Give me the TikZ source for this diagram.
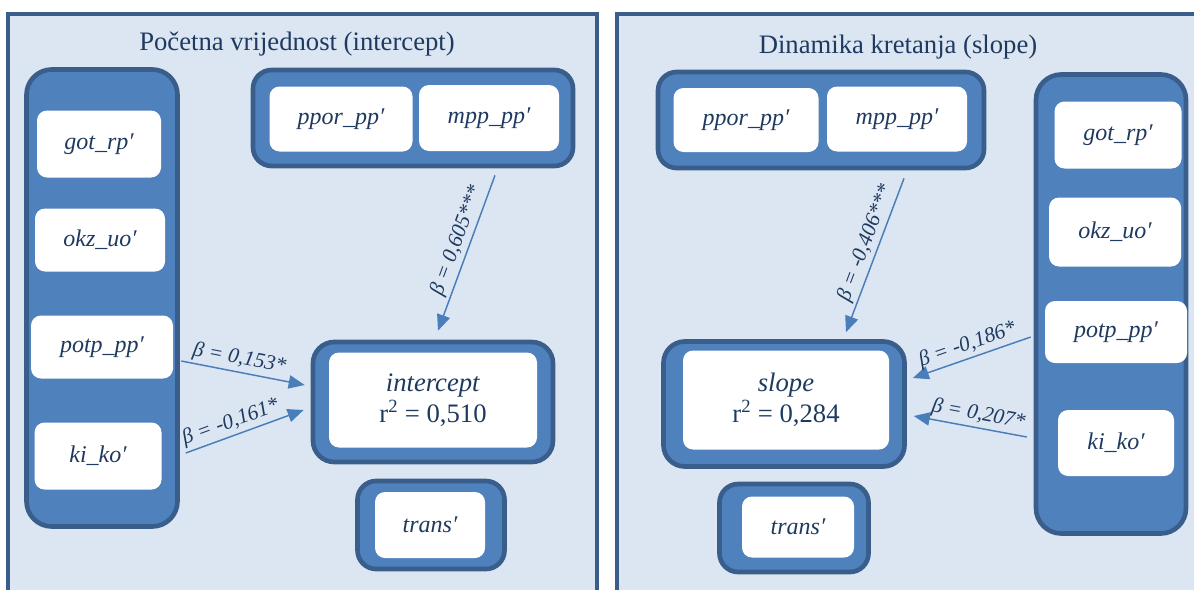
\documentclass[tikz,border=0pt]{standalone}
\usepackage{fontspec}
\setmainfont{Liberation Serif}
\usetikzlibrary{arrows.meta, calc}

\definecolor{panelfill}{HTML}{DCE6F2}
\definecolor{darkline}{HTML}{3A5E8C}
\definecolor{midblue}{HTML}{4F81BD}
\definecolor{arrowblue}{HTML}{4A7EBB}
\definecolor{txtblue}{HTML}{1F3A60}

\begin{document}
\begin{tikzpicture}[x=0.75pt, y=-0.75pt,
                    panel/.style={draw=darkline, line width=3pt, fill=panelfill},
                    grp/.style={draw=darkline, line width=3.5pt, fill=midblue, rounded corners=#1, inner sep=0pt},
                    grp/.default=14pt,
                    var/.style={fill=white, rounded corners=7.5pt, inner sep=0pt, text=txtblue,
                                font=\itshape\fontsize{18}{22}\selectfont},
                    sz/.style 2 args={minimum width=#1*0.75pt, minimum height=#2*0.75pt},
                    res/.style={var, align=center, font=\fontsize{20}{23}\selectfont},
                    title/.style={text=txtblue, font=\fontsize{20}{24}\selectfont},
                    arr/.style={-{Triangle[length=12pt,width=10pt]}, draw=arrowblue, line width=1.1pt},
                    lbl/.style={sloped, above, inner sep=2pt, text=txtblue, font=\itshape\fontsize{16}{18}\selectfont}]

\fill[white] (0,0) rectangle (1194,589);
\useasboundingbox (0,0) rectangle (1194,589);
\clip (0,0) rectangle (1194,589);

% Panels
\draw[panel] (8,14) rectangle (597,600);
\draw[panel] (617,14) rectangle (1205,600);
\node (ltitle) [title] at (297,44) {Početna vrijednost (intercept)};
\node (rtitle) [title] at (898,47) {Dinamika kretanja (slope)};

% Left: nodes
\node (lcol) [grp=19pt, sz={151}{457}] at (102,298) {};
\node (lgot) [var, sz={124}{67}] at (99,144) {got\_rp′};
\node (lokz) [var, sz={130}{63}] at (100,240) {okz\_uo′};
\node (lpotp) [var, sz={142}{63}] at (102,347) {potp\_pp′};
\node (lkiko) [var, sz={127}{67}] at (98,456) {ki\_ko′};
\node (ltop) [grp, sz={320}{96}] at (413,118) {};
\node (lppor) [var, sz={143}{65}] at (341,119) {ppor\_pp′};
\node (lmpp) [var, sz={140}{66}] at (489,118) {mpp\_pp′};
\node (icpt) [grp=16pt, sz={240}{120}] at (433,402) {};
\node (icptx) [res, sz={208}{95}] at (433,400) {\textit{intercept}\\r\textsuperscript{2} = 0,510};
\node (ltrg) [grp, sz={147}{88}] at (431,525) {};
\node (ltrans) [var, sz={110}{66}] at (430,525) {trans′};

% Left: edges
\draw[arr] ($(ltop.south)+(82,7)$) -- node[lbl, pos=0.45] {β = 0,605***} ($(icpt.north)+(5,-9)$);
\draw[arr] ($(lpotp.east)+(8,14)$) -- node[lbl, pos=0.45] {β = 0,153*} ($(icpt.west)+(-6,-17)$);
\draw[arr] ($(lkiko.east)+(24,-3)$) -- node[lbl, pos=0.42] {β = -0,161*} ($(icpt.west)+(-7,8)$);

% Right: nodes
\node (rtop) [grp, sz={326}{96}] at (821,120) {};
\node (rppor) [var, sz={145}{64}] at (746,120) {ppor\_pp′};
\node (rmpp) [var, sz={140}{65}] at (897,119) {mpp\_pp′};
\node (rcol) [grp=19pt, sz={150}{459}] at (1111,304) {};
\node (rgot) [var, sz={127}{67}] at (1118,135) {got\_rp′};
\node (rokz) [var, sz={132}{69}] at (1115,232) {okz\_uo′};
\node (rpotp) [var, sz={142}{62}] at (1116,332) {potp\_pp′};
\node (rkiko) [var, sz={116}{66}] at (1116,443) {ki\_ko′};
\node (slope) [grp=16pt, sz={241}{125}] at (784,404) {};
\node (slopex) [res, sz={206}{99}] at (786,400) {\textit{slope}\\r\textsuperscript{2} = 0,284};
\node (rtrg) [grp, sz={149}{88}] at (794,528) {};
\node (rtrans) [var, sz={112}{61}] at (798,527) {trans′};

% Right: edges
\draw[arr] ($(rtop.south)+(83,8)$) -- node[lbl, pos=0.45] {β = -0,406***} ($(slope.north)+(62,-7)$);
\draw[arr] ($(rpotp.west)+(-14,5)$) -- node[lbl, pos=0.5] {β = -0,186*} ($(slope.east)+(6,-26)$);
\draw[arr] ($(rkiko.west)+(-31,-6)$) -- node[lbl, pos=0.45] {β = 0,207*} ($(slope.east)+(7,12)$);

\end{tikzpicture}
\end{document}
